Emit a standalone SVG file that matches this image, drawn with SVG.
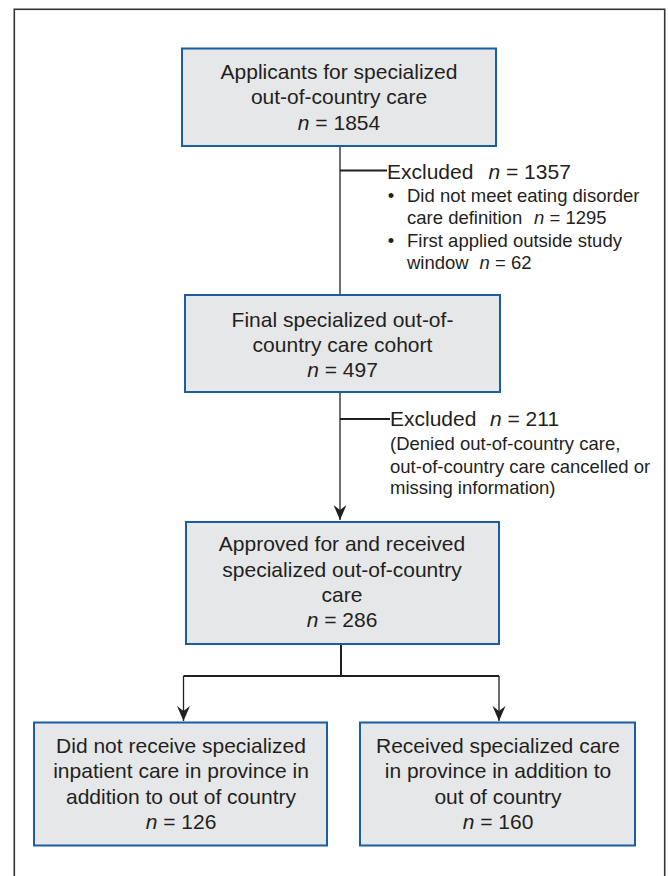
<svg xmlns="http://www.w3.org/2000/svg" width="668" height="876" viewBox="0 0 668 876">
  <defs>
    <style>
      .box { fill: #e6e7e8; stroke: #1a5da3; stroke-width: 2; }
      .t { font-family: "Liberation Sans", Arial, sans-serif; font-size: 21px; fill: #231f20; text-anchor: middle; }
      .lab { font-family: "Liberation Sans", Arial, sans-serif; font-size: 21px; fill: #231f20; }
      .det { font-family: "Liberation Sans", Arial, sans-serif; font-size: 18.5px; fill: #231f20; }
      .i { font-style: italic; }
      .ln { fill: none; stroke: #231f20; stroke-width: 1.3; }
      .lnb { fill: none; stroke: #231f20; stroke-width: 2; }
    </style>
    <marker id="arr" viewBox="-16 -7 17 14" refX="0" refY="0" markerWidth="17" markerHeight="14" markerUnits="userSpaceOnUse" orient="auto">
      <path d="M0,0 L-15,-6.5 L-10,0 L-15,6.5 Z" fill="#231f20"/>
    </marker>
  </defs>

  <rect x="0" y="0" width="668" height="876" fill="#ffffff"/>
  <rect id="frame" x="14.3" y="9.3" width="650.4" height="880" fill="#ffffff" stroke="#333333" stroke-width="1.6"/>

  <g id="connectors">
    <line class="ln" x1="340" y1="146" x2="340" y2="295"/>
    <line class="lnb" x1="340" y1="170.5" x2="387" y2="170.5"/>
    <line class="ln" x1="340" y1="392" x2="340" y2="520" marker-end="url(#arr)"/>
    <line class="lnb" x1="340" y1="419" x2="390" y2="419"/>
    <line class="lnb" x1="341" y1="644" x2="341" y2="676"/>
    <line class="lnb" x1="183.5" y1="676" x2="499" y2="676"/>
    <line class="ln" x1="183.5" y1="676" x2="183.5" y2="721" marker-end="url(#arr)"/>
    <line class="ln" x1="499" y1="676" x2="499" y2="721" marker-end="url(#arr)"/>
  </g>

  <g id="node-applicants">
    <rect class="box" x="182" y="48.5" width="314" height="97.5"/>
    <text class="t" x="339" y="79">Applicants for specialized</text>
    <text class="t" x="339" y="104">out-of-country care</text>
    <text class="t" x="339" y="129.5"><tspan class="i">n</tspan> = 1854</text>
  </g>

  <g id="excluded-1">
    <text class="lab" x="387" y="178.5">Excluded</text>
    <text class="lab" x="488.5" y="178.5"><tspan class="i">n</tspan> = 1357</text>
    <text class="det" x="391" y="201.5" text-anchor="middle">•</text>
    <text class="det" x="407" y="201.5">Did not meet eating disorder</text>
    <text class="det" x="407" y="224">care definition</text>
    <text class="det" x="534" y="224"><tspan class="i">n</tspan> = 1295</text>
    <text class="det" x="391" y="246.5" text-anchor="middle">•</text>
    <text class="det" x="407" y="246.5">First applied outside study</text>
    <text class="det" x="407" y="269">window</text>
    <text class="det" x="479.5" y="269"><tspan class="i">n</tspan> = 62</text>
  </g>

  <g id="node-final">
    <rect class="box" x="185" y="295" width="315" height="97"/>
    <text class="t" x="342.5" y="326.5">Final specialized out-of-</text>
    <text class="t" x="342.5" y="351.5">country care cohort</text>
    <text class="t" x="342.5" y="376.5"><tspan class="i">n</tspan> = 497</text>
  </g>

  <g id="excluded-2">
    <text class="lab" x="390" y="426">Excluded</text>
    <text class="lab" x="490" y="426"><tspan class="i">n</tspan> = 211</text>
    <text class="det" x="390" y="450">(Denied out-of-country care,</text>
    <text class="det" x="390" y="472.5">out-of-country care cancelled or</text>
    <text class="det" x="390" y="494">missing information)</text>
  </g>

  <g id="node-approved">
    <rect class="box" x="186" y="522" width="313" height="122"/>
    <text class="t" x="342" y="551">Approved for and received</text>
    <text class="t" x="342" y="576.5">specialized out-of-country</text>
    <text class="t" x="342" y="601.5">care</text>
    <text class="t" x="342" y="627"><tspan class="i">n</tspan> = 286</text>
  </g>

  <g id="node-no-inprovince">
    <rect class="box" x="34" y="722.5" width="293" height="123"/>
    <text class="t" x="181" y="753.3">Did not receive specialized</text>
    <text class="t" x="181" y="778.3">inpatient care in province in</text>
    <text class="t" x="181" y="803.5">addition to out of country</text>
    <text class="t" x="181" y="828.7"><tspan class="i">n</tspan> = 126</text>
  </g>

  <g id="node-inprovince">
    <rect class="box" x="360" y="722.5" width="275" height="123"/>
    <text class="t" x="498" y="753.3">Received specialized care</text>
    <text class="t" x="498" y="778.3">in province in addition to</text>
    <text class="t" x="498" y="803.5">out of country</text>
    <text class="t" x="498" y="828.7"><tspan class="i">n</tspan> = 160</text>
  </g>
</svg>
